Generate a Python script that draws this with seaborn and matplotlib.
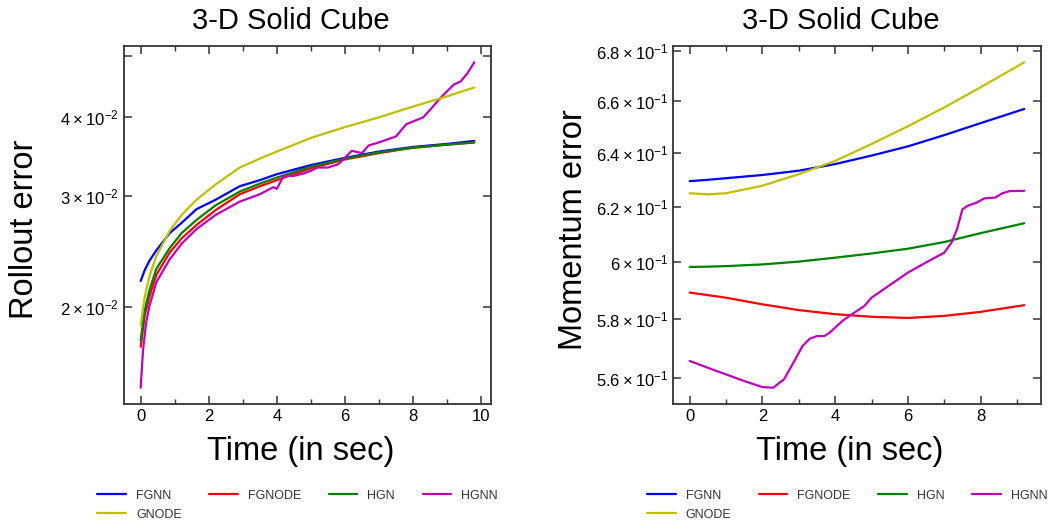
import numpy as np
import pandas as pd
import matplotlib
matplotlib.use('Agg')
import matplotlib.pyplot as plt
import seaborn as sns
from matplotlib.ticker import MultipleLocator

# data
models = ['FGNN', 'FGNODE', 'HGN', 'HGNN', 'GNODE']
colors = ['b', 'r', 'g', 'm', 'y']

# rollout error
t_roll = [0, 0.12, 0.26, 0.46, 0.85, 1.2, 1.64, 2.2, 2.91, 3.5, 4, 5, 6, 7,
          8, 9, 9.8]
roll_fgnn = [0.0220, 0.0229, 0.0237, 0.0246, 0.0262, 0.0272, 0.0286, 0.0296,
             0.0311, 0.0318, 0.0325, 0.0336, 0.0345, 0.0353, 0.0359, 0.0363,
             0.0367]
roll_fgnode = [0.0173, 0.0194, 0.0208, 0.0225, 0.0244, 0.0257, 0.0270,
               0.0285, 0.0302, 0.0311, 0.0318, 0.0332, 0.0343, 0.0351, 0.0358,
               0.0362, 0.0365]
roll_hgn = [0.0177, 0.0198, 0.0213, 0.0230, 0.0248, 0.0262, 0.0275, 0.0290,
            0.0305, 0.0314, 0.0321, 0.0334, 0.0344, 0.0352, 0.0358, 0.0362,
            0.0365]
roll_gnode = [0.0187, 0.0208, 0.0224, 0.0241, 0.0264, 0.0280, 0.0296, 0.0313,
              0.0333, 0.0344, 0.0353, 0.0371, 0.0386, 0.0400, 0.0416, 0.0432,
              0.0446]
t_roll_hgnn = [0, 0.07, 0.16, 0.26, 0.46, 0.85, 1.2, 1.64, 2.2, 2.91, 3.5,
               3.8, 3.9, 4.0, 4.2, 4.5, 4.8, 5.0, 5.2, 5.5, 5.8, 6.0, 6.2,
               6.5, 6.7, 7.0, 7.5, 7.8, 8.0, 8.3, 8.5, 8.8, 9.0, 9.2, 9.4,
               9.6, 9.8]
roll_hgnn = [0.0149, 0.0171, 0.0189, 0.0201, 0.0219, 0.0238, 0.0252, 0.0266,
             0.0280, 0.0294, 0.0302, 0.0308, 0.0310, 0.0308, 0.0323, 0.0323,
             0.0326, 0.0329, 0.0333, 0.0333, 0.0337, 0.0345, 0.0354, 0.0351,
             0.0361, 0.0365, 0.0373, 0.0390, 0.0394, 0.0400, 0.0411, 0.0429,
             0.0440, 0.0451, 0.0456, 0.0470, 0.0489]

# momentum error
t_mom = [0, 0.5, 1, 2, 3, 4, 5, 6, 7, 8, 9.2]
mom_fgnn = [0.6294, 0.6299, 0.6305, 0.6317, 0.6333, 0.6358, 0.6390, 0.6425,
            0.6468, 0.6514, 0.6569]
mom_fgnode = [0.5892, 0.5883, 0.5874, 0.5851, 0.5831, 0.5817, 0.5808, 0.5804,
              0.5811, 0.5825, 0.5848]
mom_hgn = [0.5982, 0.5983, 0.5985, 0.5991, 0.6001, 0.6015, 0.6030, 0.6047,
           0.6071, 0.6103, 0.6139]
mom_gnode = [0.6249, 0.6245, 0.6249, 0.6277, 0.6320, 0.6370, 0.6434, 0.6502,
             0.6575, 0.6654, 0.6753]
t_mom_hgnn = [0, 0.5, 1, 1.5, 2, 2.3, 2.6, 2.9, 3.1, 3.3, 3.5, 3.7, 3.85, 4,
              4.2, 4.5, 4.8, 5, 5.5, 6, 6.5, 7, 7.2, 7.35, 7.5, 7.65, 7.9,
              8.1, 8.4, 8.6, 8.8, 9.2]
mom_hgnn = [0.5658, 0.5635, 0.5613, 0.5591, 0.5571, 0.5569, 0.5598, 0.5663,
            0.5708, 0.5733, 0.5742, 0.5742, 0.5754, 0.5771, 0.5794, 0.5820,
            0.5845, 0.5874, 0.5918, 0.5962, 0.5998, 0.6033, 0.6069, 0.6117,
            0.6190, 0.6203, 0.6215, 0.6230, 0.6233, 0.6249, 0.6257, 0.6258]

panels = [
    dict(ylabel='Rollout error',
         series=[(t_roll, roll_fgnn), (t_roll, roll_fgnode), (t_roll, roll_hgn),
                 (t_roll_hgnn, roll_hgnn), (t_roll, roll_gnode)]),
    dict(ylabel='Momentum error',
         series=[(t_mom, mom_fgnn), (t_mom, mom_fgnode), (t_mom, mom_hgn),
                 (t_mom_hgnn, mom_hgnn), (t_mom, mom_gnode)]),
]

# styles
sns.set_style('ticks')
plt.rcParams['font.family'] = ['Liberation Sans', 'DejaVu Sans']
edge = '0.2'
plt.rc('axes', edgecolor=edge, linewidth=1.3, labelcolor='k')
plt.rc('text', color='k')
plt.rc('xtick', color=edge, labelcolor='k')
plt.rc('ytick', color=edge, labelcolor='k')

fig = plt.figure(figsize=(10.48, 5.21), dpi=100)
axes = [fig.add_axes([0.1183, 0.2246, 0.3502, 0.687]),
        fig.add_axes([0.6422, 0.2246, 0.3511, 0.687])]

# row-wise legend order for ncol=4 (matplotlib fills column-wise)
leg_order = [0, 4, 1, 2, 3]

for ax, panel in zip(axes, panels):
    for name, color, (tt, vals) in zip(models, colors, panel['series']):
        df = pd.DataFrame({'t': tt, 'err': vals})
        sns.lineplot(data=df, x='t', y='err', ax=ax, color=color, label=name,
                     linewidth=1.6)
    ax.set_yscale('log')
    ax.xaxis.set_major_locator(MultipleLocator(2))
    ax.xaxis.set_minor_locator(MultipleLocator(1))
    ax.tick_params(which='both', direction='in', top=True, right=True,
                   labelsize=12)
    ax.tick_params(which='major', length=6, width=1.1)
    ax.tick_params(which='minor', length=3.5, width=1.0)
    ax.tick_params(axis='y', which='minor', length=6, width=1.1)
    ax.set_title('3-D Solid Cube', fontsize=21, pad=12, x=0.455)
    ax.set_xlabel('Time (in sec)', fontsize=23.5)
    ax.set_ylabel(panel['ylabel'], fontsize=23.5)
    ax.xaxis.set_label_coords(0.481, -0.09)
    ax.yaxis.set_label_coords(-0.228, 0.487)
    handles, labels = ax.get_legend_handles_labels()
    leg = ax.legend([handles[i] for i in leg_order],
                    [labels[i] for i in leg_order],
                    loc='upper center', bbox_to_anchor=(0.473, -0.208),
                    ncol=4, frameon=False, fontsize=9, handlelength=2.3,
                    handletextpad=0.8, columnspacing=2.2, labelspacing=0.55)
    for txt in leg.get_texts():
        txt.set_color('0.2')

fig.savefig('out.png', dpi=100)
